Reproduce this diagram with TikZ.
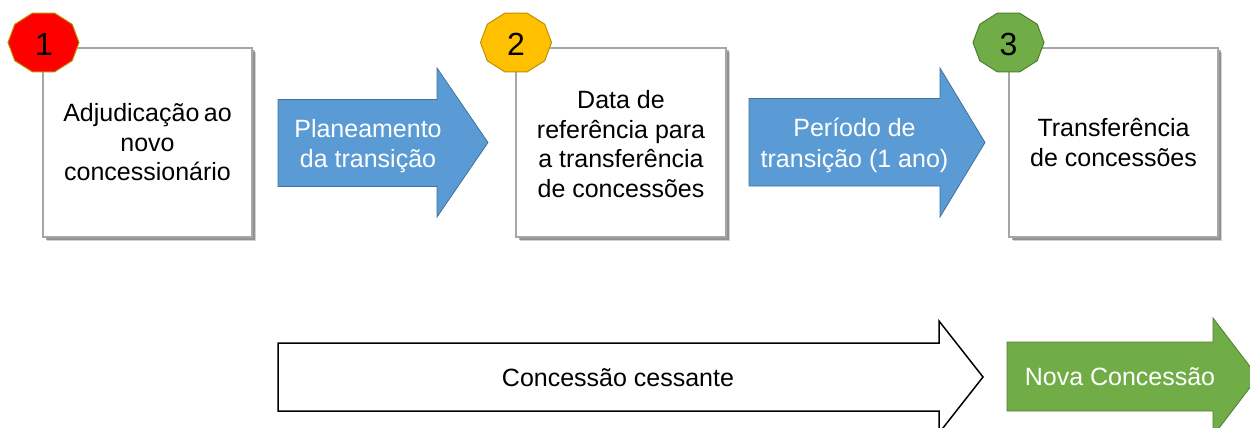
\documentclass[tikz,border=0pt]{standalone}
\usepackage{fontspec}
\setmainfont{Liberation Sans}
\usetikzlibrary{calc,shadows}
\definecolor{boxgray}{HTML}{A6A6A6}
\definecolor{blueF}{HTML}{5B9BD5}
\definecolor{blueD}{HTML}{41719C}
\definecolor{greenF}{HTML}{70AD47}
\definecolor{greenD}{HTML}{507E32}
\definecolor{redF}{HTML}{FF0000}
\definecolor{goldD}{HTML}{BF9000}
\definecolor{yellowF}{HTML}{FFC000}
\begin{document}
\begin{tikzpicture}[x=1pt,y=-1pt,
  stepbox/.style={draw=boxgray, line width=1.5pt, fill=white,
    minimum width=209pt, minimum height=189pt, inner sep=0pt,
    drop shadow={shadow xshift=4pt,shadow yshift=-4pt,opacity=.18,fill=black},
    drop shadow={shadow xshift=2.5pt,shadow yshift=-2.5pt,opacity=.3,fill=black}},
  boxtext/.style={align=center, inner sep=0pt, font=\fontsize{25}{29.5}\selectfont},
  arrowtext/.style={align=center, inner sep=0pt, text=white, font=\fontsize{25}{30.5}\selectfont},
  blackarrowtext/.style={align=center, inner sep=0pt, text=black, font=\fontsize{25}{30}\selectfont},
  numtext/.style={inner sep=0pt, font=\fontsize{32}{36}\selectfont},
  bluearrow/.style={fill=blueF, draw=blueD, line width=0.8pt, line join=miter},
  greenarrow/.style={fill=greenF, draw=greenD, line width=0.8pt},
  whitearrow/.style={fill=white, draw=black, line width=1.5pt},
  deca/.style={line width=1pt, line join=miter}
]
\useasboundingbox (0,0) rectangle (1250,428);
\clip (0,0) rectangle (1250,428);

% boxes
\node[stepbox] (b1) at (147.5,142.5) {};
\node[stepbox, minimum width=210pt] (b2) at (621,142.5) {};
\node[stepbox] (b3) at (1113.5,142.5) {};

\node[boxtext] (t1) at ($(b1.center)+(0,0)$) {Adjudicação\hspace{-0.1em} ao\\novo\\concessionário};
\node[boxtext] (t2) at ($(b2.center)+(0,1.5)$) {Data de\\referência para\\a transferência\\de concessões};
\node[boxtext] (t3) at ($(b3.center)+(0,0)$) {Transferência\\de concessões};

% decagons
\coordinate (o1) at (43.5,42.5);
\coordinate (o2) at (516,42.5);
\coordinate (o3) at (1008.5,42.5);
\draw[deca, fill=redF, draw=goldD] ($(o1)+(0:35.5 and 31)$)
  \foreach \a in {36,72,...,324}{ -- ($(o1)+(\a:35.5 and 31)$)} -- cycle;
\draw[deca, fill=yellowF, draw=goldD] ($(o2)+(0:35.5 and 31)$)
  \foreach \a in {36,72,...,324}{ -- ($(o2)+(\a:35.5 and 31)$)} -- cycle;
\draw[deca, fill=greenF, draw=greenD] ($(o3)+(0:35.5 and 31)$)
  \foreach \a in {36,72,...,324}{ -- ($(o3)+(\a:35.5 and 31)$)} -- cycle;
\node[numtext] (n1) at ($(o1)+(0.5,1.5)$) {1};
\node[numtext] (n2) at ($(o2)+(0,1.5)$) {2};
\node[numtext] (n3) at ($(o3)+(0,1.5)$) {3};

% blue arrows
\draw[bluearrow] (278,99.5) -- (437,99.5) -- (437,68) -- (488,142.5) -- (437,217) -- (437,186.5) -- (278,186.5) -- cycle;
\node[arrowtext] (a1) at (368,146) {Planeamento\\da transição};
\draw[bluearrow] (749,98.5) -- (940,98.5) -- (940,68) -- (985,142.5) -- (940,217) -- (940,186) -- (749,186) -- cycle;
\node[arrowtext] (a2) at (854.5,145.5) {Período de\\transição (1 ano)};

% bottom arrows
\draw[whitearrow] (278,343) -- (939,343) -- (939,321) -- (983,377) -- (939,433) -- (939,411) -- (278,411) -- cycle;
\node[blackarrowtext] (a3) at (618,378) {Concessão cessante};
\draw[greenarrow] (1007,342) -- (1213,342) -- (1213,318) -- (1258,377) -- (1213,436) -- (1213,411) -- (1007,411) -- cycle;
\node[arrowtext] (a4) at (1120,377) {Nova Concessão};
\end{tikzpicture}
\end{document}
